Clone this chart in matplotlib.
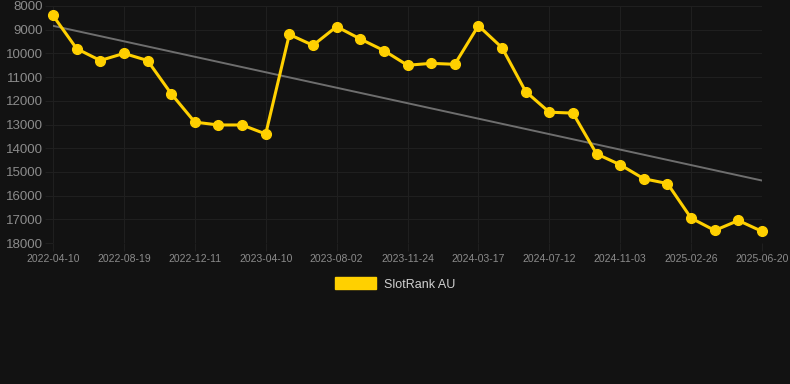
import matplotlib.pyplot as plt
import numpy as np
from matplotlib.patches import Patch

DATES = ["2022-04-10", "2022-08-19", "2022-12-11", "2023-04-10", "2023-08-02",
         "2023-11-24", "2024-03-17", "2024-07-12", "2024-11-03", "2025-02-26",
         "2025-06-20"]

RANK = [8400, 9800, 10300, 10000, 10300, 11700, 12900, 13020, 13020, 13400,
        9200, 9660, 8870, 9390, 9880, 10500, 10420, 10460, 8830, 9760,
        11610, 12480, 12520, 14240, 14700, 15290, 15490, 16950, 17470, 17050,
        17510]

BG = "#121212"
GRID = "#1f1f1f"
TXT = "#8c8c8c"
GOLD = "#ffd000"

plt.rcParams['font.family'] = ['Liberation Sans', 'DejaVu Sans']

fig = plt.figure(figsize=(7.9, 3.84), dpi=100, facecolor=BG)
ax = fig.add_axes([53 / 790, 1 - 243 / 384, (762 - 53) / 790, (243 - 6) / 384])
ax.set_facecolor(BG)

x = np.arange(len(RANK))
# trend line from a linear fit of the series
k, b = np.polyfit(x, RANK, 1)
ax.plot(x, k * x + b, color="#6e6e6e", lw=1.4, zorder=2)
ax.plot(x, RANK, color=GOLD, lw=2.2, marker="o", ms=7, zorder=3, clip_on=False)

ax.set_xlim(0, len(RANK) - 1)
ax.set_ylim(18000, 8000)
ax.set_yticks(range(8000, 18001, 1000))
ax.set_xticks(range(0, len(RANK), 3))
ax.set_xticklabels(DATES)

ax.grid(True, color=GRID, lw=0.8)
for s in ax.spines.values():
    s.set_visible(False)
ax.tick_params(axis="y", colors=GRID, length=5.8, width=0.8, labelcolor=TXT,
               labelsize=9.5, pad=1.5)
ax.tick_params(axis="x", colors=GRID, length=5.8, width=0.8, labelcolor=TXT,
               labelsize=7.5, pad=2)

fig.legend(handles=[Patch(color=GOLD, label="SlotRank AU")], loc="center",
           bbox_to_anchor=(0.5, 1 - 284 / 384), frameon=False, fontsize=9,
           labelcolor="#d0d0d0", handlelength=3.3, handleheight=1.1,
           handletextpad=0.6)

fig.savefig("out.png", dpi=100, facecolor=BG)
